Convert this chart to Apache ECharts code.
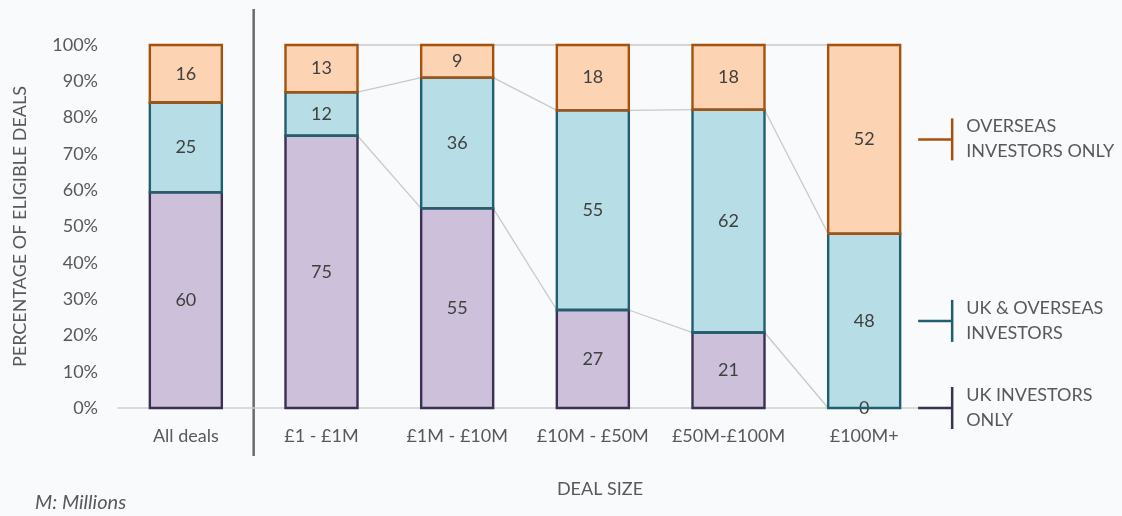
<!DOCTYPE html>
<html>
<head>
<meta charset="utf-8">
<script src="https://cdn.jsdelivr.net/npm/echarts@6/dist/echarts.min.js"></script>
<style>
  html, body { margin: 0; padding: 0; background: #f9fafc; }
  #chart { width: 1122px; height: 516px; }
</style>
</head>
<body>
<div id="chart"></div>
<script>
// Deal size buckets and the count share of each investor group
const categories = ['All deals', '£1 - £1M', '£1M - £10M', '£10M - £50M', '£50M-£100M', '£100M+'];
const ukOnly = [60, 75, 55, 27, 21, 0];
const ukAndOverseas = [25, 12, 36, 55, 62, 48];
const overseasOnly = [16, 13, 9, 18, 18, 52];
const yTicks = [0, 10, 20, 30, 40, 50, 60, 70, 80, 90, 100];
const seriesNames = [['UK INVESTORS', 'ONLY'], ['UK & OVERSEAS', 'INVESTORS'], ['OVERSEAS', 'INVESTORS ONLY']];

const FONT = 'Lato, "Open Sans", sans-serif';
const TEXT = '#595959';
const BAR_W = 72;

const groups = [ukOnly, ukAndOverseas, overseasOnly];
const fills = ['#ccc0db', '#b7dde7', '#fdd4b3'];
const borders = ['#3b3150', '#215f6e', '#a5520f'];

// 100% stacked: normalise each column by its total
const totals = categories.map((_, i) => groups.reduce((s, g) => s + g[i], 0));
const pct = groups.map(g => g.map((v, i) => ({ value: v / totals[i] * 100, raw: v })));

// cumulative tops for each segment
const tops = groups.map((_, k) => categories.map((_, i) => {
  let s = 0;
  for (let j = 0; j <= k; j++) s += pct[j][i].value;
  return s;
}));

// segment outlines, lower groups first so the upper segment's edge wins at each join
const outlineData = [];
groups.forEach((g, k) => {
  categories.forEach((_, i) => {
    if (g[i] > 0) outlineData.push([i, k === 0 ? 0 : tops[k - 1][i], tops[k][i], k]);
  });
});

// connector lines between neighbouring columns (skip the "All deals" column)
const connectorData = [];
for (let k = 0; k < tops.length; k++) {
  for (let i = 1; i < categories.length - 1; i++) {
    connectorData.push([i, tops[k][i], tops[k][i + 1]]);
  }
}

const chart = echarts.init(document.getElementById('chart'));

const barSeries = groups.map((g, k) => ({
  type: 'bar',
  name: seriesNames[k].join(' '),
  stack: 'total',
  barWidth: BAR_W,
  data: pct[k],
  itemStyle: { color: fills[k], borderWidth: 0 },
  label: {
    show: true,
    position: 'inside',
    color: '#404040',
    fontFamily: FONT,
    fontSize: 18,
    formatter: p => String(p.data.raw)
  },
  emphasis: { disabled: true },
  z: 3
}));

chart.setOption({
  backgroundColor: '#f9fafc',
  animation: false,
  grid: { left: 118, right: 190, top: 45, bottom: 108 },
  xAxis: {
    type: 'category',
    data: categories,
    axisLine: { show: true, lineStyle: { color: '#d0d0d0', width: 1.5 } },
    axisTick: { show: false },
    axisLabel: { color: TEXT, fontFamily: FONT, fontSize: 18, margin: 19, interval: 0 },
    splitLine: { show: false }
  },
  yAxis: {
    type: 'value',
    min: yTicks[0],
    max: yTicks[yTicks.length - 1],
    interval: yTicks[1] - yTicks[0],
    axisLine: { show: false },
    axisTick: { show: false },
    splitLine: { show: false },
    axisLabel: { color: TEXT, fontFamily: FONT, fontSize: 18, margin: 20, formatter: '{value}%' },
    name: 'PERCENTAGE OF ELIGIBLE DEALS',
    nameLocation: 'middle',
    nameRotate: 90,
    nameGap: 89,
    nameTextStyle: { color: TEXT, fontFamily: FONT, fontSize: 18 }
  },
  series: barSeries.concat([{
    type: 'custom',
    data: connectorData,
    encode: { x: 0, y: 1 },
    z: 1,
    silent: true,
    renderItem: (params, api) => {
      const i = api.value(0);
      const p1 = api.coord([i, api.value(1)]);
      const p2 = api.coord([i + 1, api.value(2)]);
      return {
        type: 'line',
        shape: { x1: p1[0] + BAR_W / 2, y1: p1[1], x2: p2[0] - BAR_W / 2, y2: p2[1] },
        style: { stroke: '#c9c9c9', lineWidth: 1.3 }
      };
    }
  }, {
    type: 'custom',
    data: outlineData,
    encode: { x: 0, y: [1, 2] },
    z: 4,
    silent: true,
    renderItem: (params, api) => {
      const i = api.value(0);
      const pb = api.coord([i, api.value(1)]);
      const pt = api.coord([i, api.value(2)]);
      return {
        type: 'rect',
        shape: { x: pb[0] - BAR_W / 2, y: pt[1], width: BAR_W, height: pb[1] - pt[1] },
        style: { fill: 'none', stroke: borders[api.value(3)], lineWidth: 2.4 }
      };
    }
  }])
});

// Series-name callouts beside the last column, separator line and footnotes
const last = categories.length - 1;
const c0 = chart.convertToPixel({ seriesIndex: 0 }, [0, 0]);
const c1 = chart.convertToPixel({ seriesIndex: 0 }, [1, 0]);
const sepX = (c0[0] + c1[0]) / 2;

const graphics = [{
  type: 'line',
  shape: { x1: sepX, y1: 9, x2: sepX, y2: 456 },
  style: { stroke: '#6b6b6b', lineWidth: 2.5 }
}, {
  type: 'text',
  x: 600, y: 489,
  style: { text: 'DEAL SIZE', fill: TEXT, font: '18px ' + FONT, align: 'center', verticalAlign: 'middle' }
}, {
  type: 'text',
  x: 35, y: 503,
  style: { text: 'M: Millions', fill: TEXT, font: 'italic 20px ' + FONT, align: 'left', verticalAlign: 'middle' }
}];

groups.forEach((g, k) => {
  const base = k === 0 ? 0 : tops[k - 1][last];
  const mid = (base + tops[k][last]) / 2;
  const pt = chart.convertToPixel({ seriesIndex: 0 }, [last, mid]);
  const xs = pt[0] + BAR_W / 2 + 18;
  const xv = xs + 34;
  graphics.push({
    type: 'line',
    z: 100,
    shape: { x1: xs, y1: pt[1], x2: xv, y2: pt[1] },
    style: { stroke: borders[k], lineWidth: 2.5 }
  }, {
    type: 'line',
    z: 100,
    shape: { x1: xv, y1: pt[1] - 21, x2: xv, y2: pt[1] + 21 },
    style: { stroke: borders[k], lineWidth: 2.5 }
  }, {
    type: 'text',
    x: xv + 14, y: pt[1] - 13,
    style: { text: seriesNames[k][0], fill: TEXT, font: '18px ' + FONT, align: 'left', verticalAlign: 'middle' }
  }, {
    type: 'text',
    x: xv + 14, y: pt[1] + 12,
    style: { text: seriesNames[k][1], fill: TEXT, font: '18px ' + FONT, align: 'left', verticalAlign: 'middle' }
  });
});

chart.setOption({ graphic: graphics });
</script>
</body>
</html>
